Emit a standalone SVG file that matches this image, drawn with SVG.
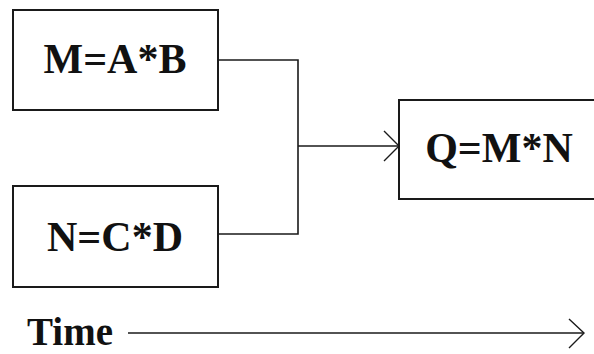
<svg xmlns="http://www.w3.org/2000/svg" width="594" height="354" viewBox="0 0 594 354">
  <style>
    .box { fill: #ffffff; stroke: #1a1a1a; stroke-width: 2; }
    .lbl { font-family: "Liberation Serif", "Times New Roman", serif; font-weight: bold; font-size: 42px; fill: #111111; text-anchor: middle; }
    .wire { fill: none; stroke: #1a1a1a; stroke-width: 1.6; }
    .head { fill: none; stroke: #1a1a1a; stroke-width: 1.4; }
  </style>
  <rect width="594" height="354" fill="#ffffff"/>

  <g id="node-m">
    <rect class="box" x="13" y="10" width="205" height="100"/>
    <text class="lbl" x="115" y="73">M=A*B</text>
  </g>

  <g id="node-n">
    <rect class="box" x="13" y="186" width="205" height="101"/>
    <text class="lbl" x="115" y="251">N=C*D</text>
  </g>

  <g id="node-q">
    <rect class="box" x="399" y="100" width="210" height="99"/>
    <text class="lbl" x="499" y="162">Q=M*N</text>
  </g>

  <g id="connectors">
    <path class="wire" d="M218 60 H298 V234 H218"/>
    <path class="wire" d="M298 146 H398"/>
    <path class="head" d="M384 131 L399 146 L384 161"/>
  </g>

  <g id="timeline">
    <text x="27" y="345" font-family="Liberation Serif, Times New Roman, serif" font-weight="bold" font-size="39" fill="#111111">Time</text>
    <path class="wire" d="M128 333 H583"/>
    <path class="head" d="M569 319 L584 333 L569 348"/>
  </g>
</svg>
